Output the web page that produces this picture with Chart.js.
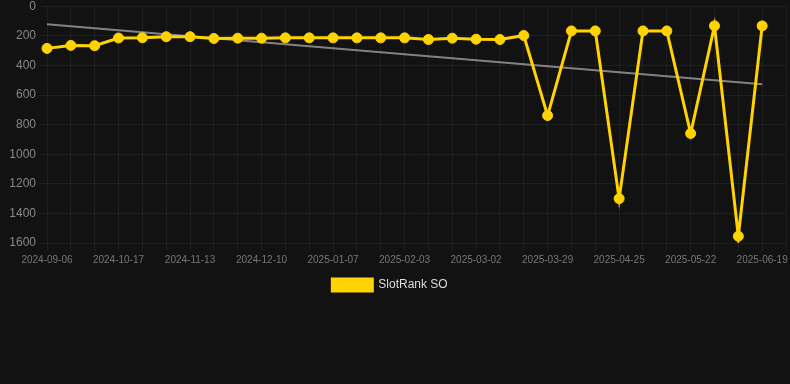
<!DOCTYPE html>
<html>
<head>
<meta charset="utf-8">
<script src="https://cdn.jsdelivr.net/npm/chart.js@4"></script>
<style>
  html, body { margin: 0; padding: 0; background: #121212; overflow: hidden; }
  #wrap { width: 790px; height: 305px; margin-top: -4px; }
</style>
</head>
<body>
<div id="wrap"><canvas id="rankChart"></canvas></div>
<script>
// Dates (category axis, every 3rd label shown)
const dates = [
  '2024-09-06', '2024-09-20', '2024-10-04', '2024-10-17', '2024-10-26', '2024-11-04',
  '2024-11-13', '2024-11-22', '2024-12-01', '2024-12-10', '2024-12-19', '2024-12-28',
  '2025-01-07', '2025-01-16', '2025-01-25', '2025-02-03', '2025-02-12', '2025-02-21',
  '2025-03-02', '2025-03-11', '2025-03-20', '2025-03-29', '2025-04-07', '2025-04-16',
  '2025-04-25', '2025-05-04', '2025-05-13', '2025-05-22', '2025-05-31', '2025-06-09',
  '2025-06-19', '2025-06-28'
];

// Rank values
const rankValues = [
  285, 265, 267, 215, 213, 206, 206, 218, 216, 216, 214, 214,
  214, 214, 214, 214, 225, 216, 223, 225, 198, 739, 167, 167,
  1300, 167, 167, 860, 133, 1554, 133, null
];

// Trend line end points
const trendStart = 122;
const trendEnd = 527;

const yTicks = [0, 200, 400, 600, 800, 1000, 1200, 1400, 1600];

document.addEventListener('DOMContentLoaded', () => {
    const lastIdx = rankValues.length - 2;
    const trendValues = dates.map((d, i) => i === 0 ? trendStart : (i === lastIdx ? trendEnd : null));
    const fontFamily = 'Liberation Sans, Arial, sans-serif';

    const config = {
        type: 'line',
        data: {
            labels: dates,
            datasets: [{
                label: 'SlotRank SO',
                data: rankValues,
                borderColor: '#ffd300',
                backgroundColor: '#ffd300',
                borderWidth: 3,
                pointRadius: 5,
                pointBorderWidth: 1,
                pointHoverRadius: 6,
                tension: 0
            }, {
                label: 'trend',
                data: trendValues,
                borderColor: 'rgba(150,150,150,0.85)',
                borderWidth: 2,
                pointRadius: 0,
                spanGaps: true,
                tension: 0
            }]
        },
        options: {
            responsive: true,
            maintainAspectRatio: false,
            animation: false,
            layout: { autoPadding: false, padding: { left: -6, right: 4 } },
            scales: {
                x: {
                    afterFit: scale => { scale.paddingRight = 0; },
                    grid: { color: 'rgba(255,255,255,0.05)' },
                    border: { display: false },
                    ticks: {
                        color: '#777',
                        font: { size: 10, family: fontFamily },
                        maxRotation: 0,
                        autoSkip: false,
                        callback: function (val, idx) { return idx % 3 === 0 ? this.getLabelForValue(val) : ''; }
                    }
                },
                y: {
                    reverse: true,
                    min: yTicks[0],
                    max: yTicks[yTicks.length - 1],
                    afterFit: scale => { scale.width = 53; },
                    grid: { color: 'rgba(255,255,255,0.05)' },
                    border: { display: false },
                    ticks: {
                        stepSize: 200,
                        color: '#888',
                        font: { size: 12, family: fontFamily },
                        callback: val => String(val)
                    }
                }
            },
            plugins: {
                legend: {
                    position: 'bottom',
                    labels: {
                        color: '#ddd',
                        font: { size: 12, family: fontFamily },
                        filter: item => item.text !== 'trend'
                    }
                },
                tooltip: { enabled: false }
            }
        }
    };

    const ctx = document.getElementById('rankChart').getContext('2d');
    new Chart(ctx, config);
});
</script>
</body>
</html>
